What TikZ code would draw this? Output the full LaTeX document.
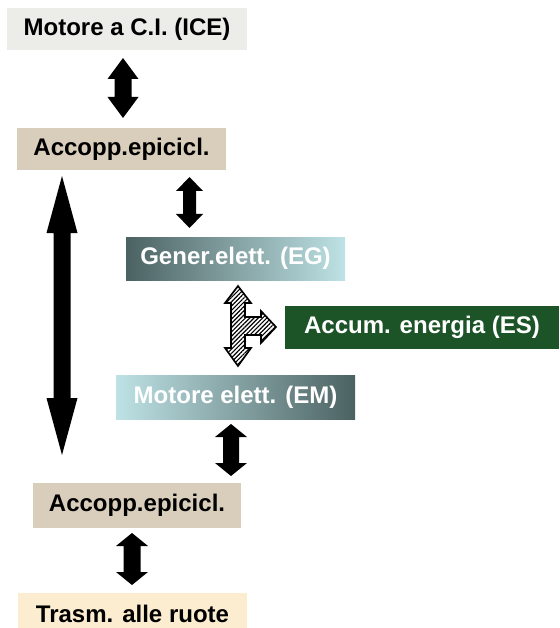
\documentclass[tikz,border=0pt]{standalone}
\usepackage{fontspec}
\setmainfont{Liberation Sans}
\usetikzlibrary{patterns.meta}
\definecolor{icegray}{RGB}{236,236,233}
\definecolor{couptan}{RGB}{217,206,187}
\definecolor{wheelpeach}{RGB}{252,236,208}
\definecolor{eleclight}{RGB}{190,226,229}
\definecolor{elecdark}{RGB}{76,98,98}
\definecolor{storegreen}{RGB}{28,84,40}
% block double arrow: x, top, bottom, shaft half width, head half width, head length
\newcommand{\dblarrow}[6]{%
  \fill (#1,#2) -- (#1+#5,#2+#6) -- (#1+#4,#2+#6) -- (#1+#4,#3-#6) -- (#1+#5,#3-#6)
    -- (#1,#3) -- (#1-#5,#3-#6) -- (#1-#4,#3-#6) -- (#1-#4,#2+#6) -- (#1-#5,#2+#6) -- cycle;}
\begin{document}
\begin{tikzpicture}
	[x=0.03cm,y=-0.03cm,
	block/.style={inner sep=0pt,font=\fontsize{20.5}{24}\selectfont\bfseries},
	elec/.style={block,text=white}]
	\useasboundingbox (0,0) rectangle (559,628);
	\node[block,name=ice,fill=icegray,minimum width=240*0.03cm,minimum height=42*0.03cm] at (127,29) {Motore a C.I. (ICE)};
	\node[block,name=coupa,fill=couptan,minimum width=209*0.03cm,minimum height=42*0.03cm] at (121.5,149) {Accopp.epicicl.};
	\node[elec,name=gen,left color=elecdark,right color=eleclight,minimum width=219*0.03cm,minimum height=43*0.03cm] at (235.5,258.5) {Gener.elett. (EG)};
	\node[block,name=store,text=white,fill=storegreen,minimum width=274*0.03cm,minimum height=43*0.03cm] at (422,327.5) {Accum. energia (ES)};
	\node[elec,name=mot,left color=eleclight,right color=elecdark,minimum width=239*0.03cm,minimum height=44*0.03cm] at (235.5,397) {Motore elett. (EM)};
	\node[block,name=coupb,fill=couptan,minimum width=208*0.03cm,minimum height=45*0.03cm] at (137,505.5) {Accopp.epicicl.};
	\node[block,name=wheel,fill=wheelpeach,minimum width=229*0.03cm,minimum height=42*0.03cm] at (132.5,614) {Trasm. alle ruote};
	% block arrows between the boxes
	\dblarrow{123}{58}{118}{8.5}{15.5}{21}
	\dblarrow{189.5}{177}{228}{6.5}{13.5}{14}
	\dblarrow{62}{176}{455}{8.5}{15.5}{57}
	\dblarrow{231}{424}{476}{8}{16}{13}
	\dblarrow{132}{533}{585}{8.5}{16}{13}
	% hatched three-way arrow
	\draw[line width=1.4pt,pattern={Lines[angle=45,distance=2.6pt,line width=1pt]}]
		(238,286) -- (251,303) -- (245,303) -- (245,317) -- (261,317) -- (261,311)
		-- (276,327) -- (261,343) -- (261,335) -- (245,335) -- (245,348) -- (251,348)
		-- (238,366) -- (225,348) -- (231,348) -- (231,303) -- (225,303) -- cycle;
\end{tikzpicture}
\end{document}
